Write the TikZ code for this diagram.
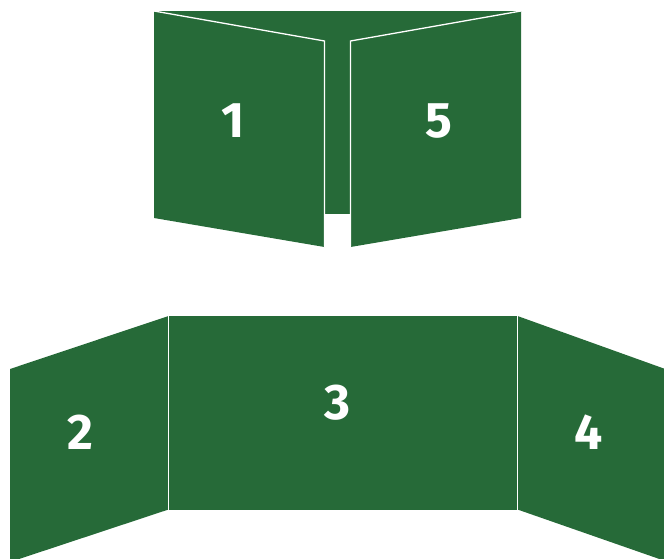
\documentclass[tikz,border=0pt]{standalone}
\usepackage{fontspec}
\setmainfont{Fira Sans}
\definecolor{panelgreen}{HTML}{266A38}
\begin{document}
\begin{tikzpicture}[x=1pt,y=-1pt,
  panel/.style={fill=panelgreen},
  fold/.style={draw=white,line width=1.3pt,line join=miter},
  digit/.style={text=white,font=\fontsize{50}{50}\selectfont\bfseries,inner sep=0pt}]
\useasboundingbox (0,0) rectangle (664,558);
\begin{scope}
\clip (0,0) rectangle (664,558);
% top: back panel and two flaps
\fill[panelgreen] (154,11) rectangle (521,214);
\path[panel] (154,11) -- (324.5,41) -- (324.5,247) -- (154,218) -- cycle;
\path[fold] (154,11) -- (324.5,41) -- (324.5,247);
\path[panel] (350.5,41) -- (521,11) -- (521,218) -- (350.5,247) -- cycle;
\path[fold] (350.5,247) -- (350.5,41) -- (521,11);
% bottom: three panels
\path[panel] (168.5,316) rectangle (517.5,509.5);
\path[panel] (10,369) -- (168.5,316) -- (168.5,509.5) -- (10,562) -- cycle;
\path[panel] (517.5,316) -- (668,370) -- (668,562) -- (517.5,509.5) -- cycle;
\path[fold] (168.5,316) -- (168.5,509.5);
\path[fold] (517.5,316) -- (517.5,509.5);
\end{scope}
\node[digit] (n1) at (233,121) {1};
\node[digit] (n5) at (439,121) {5};
\node[digit] (n2) at (80,432) {2};
\node[digit] (n3) at (337,403) {3};
\node[digit] (n4) at (589,432) {4};
\end{tikzpicture}
\end{document}
